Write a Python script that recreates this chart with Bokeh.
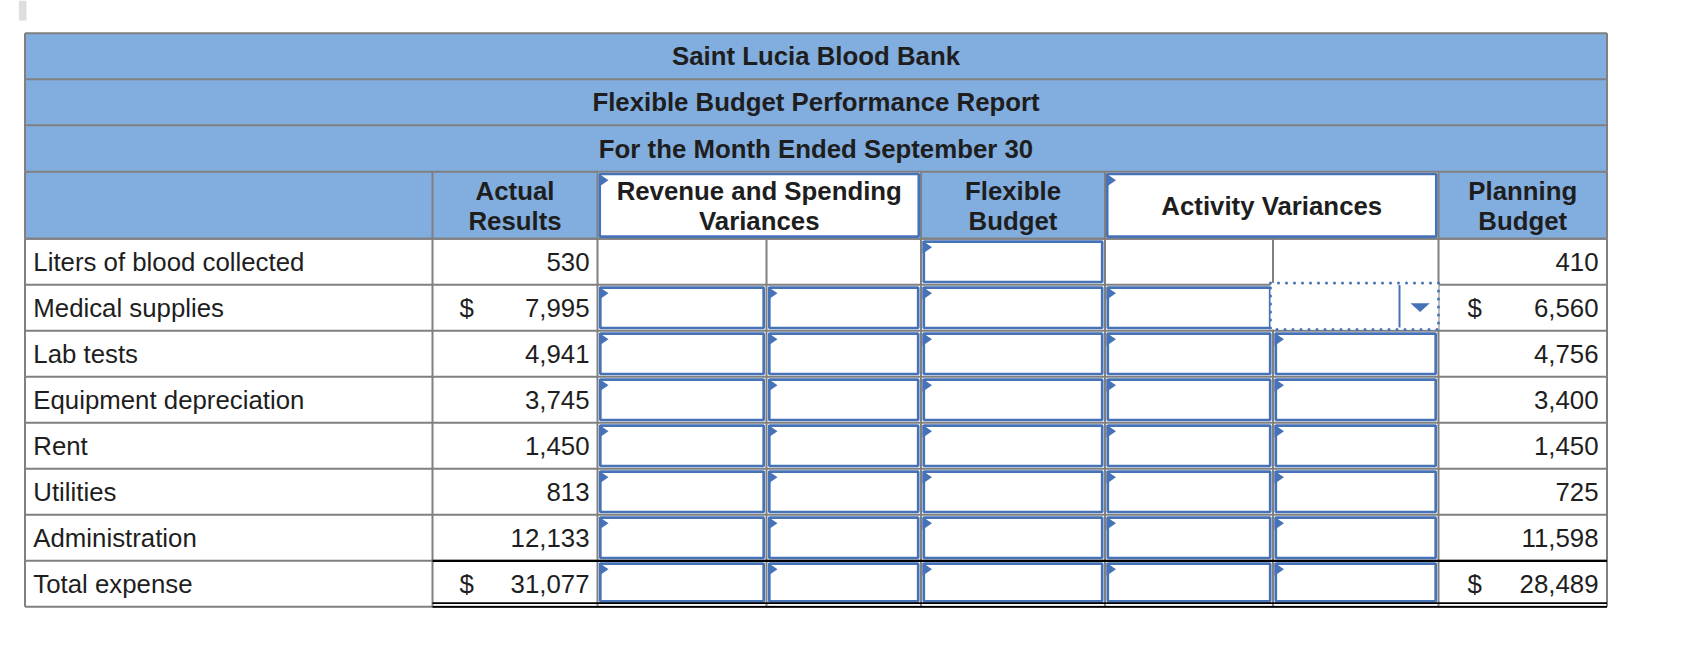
from bokeh.plotting import figure
from bokeh.models import Range1d, ColumnDataSource
from bokeh.core.properties import value
from bokeh.embed import file_html
from bokeh.resources import INLINE

# ---------------- data ----------------
title_lines = ["Saint Lucia Blood Bank",
               "Flexible Budget Performance Report",
               "For the Month Ended September 30"]
column_headers = [[""], ["Actual", "Results"], ["Revenue and Spending", "Variances"],
                  ["Flexible", "Budget"], ["Activity Variances"], ["Planning", "Budget"]]
row_labels = ["Liters of blood collected", "Medical supplies", "Lab tests",
              "Equipment depreciation", "Rent", "Utilities", "Administration",
              "Total expense"]
actual_results = [530, 7995, 4941, 3745, 1450, 813, 12133, 31077]
planning_budget = [410, 6560, 4756, 3400, 1450, 725, 11598, 28489]
dollar_rows = [False, True, False, False, False, False, False, True]

# ---------------- layout / style ----------------
COL = [24.5, 432, 597, 766, 920.5, 1104.5, 1272.5, 1438, 1606.5]
HDR = [32.7, 78.7, 124.7, 171.3, 238.3]
ROW_H = 46.0
ROWS = [HDR[-1] + i * ROW_H for i in range(len(row_labels) + 1)]
HEAD_SPANS = [(0, 1), (1, 2), (2, 4), (4, 5), (5, 7), (7, 8)]
HEAD_INPUT = [False, False, True, False, True, False]

BLUE_BG = "#82ADDF"
GRID = "#808080"
INPUT = "#4673B8"
TXT = "#1e1e1e"
FONT = value("Liberation Sans")
FS = "25.8px"

p = figure(width=1686, height=636, x_range=Range1d(0, 1686), y_range=Range1d(636, 0),
           output_backend="svg", toolbar_location=None, min_border=0,
           x_axis_type=None, y_axis_type=None)
p.grid.visible = False
p.outline_line_color = None
p.background_fill_color = "white"
p.border_fill_color = "white"

p.quad(left=[18.4], right=[26], top=[0], bottom=[20], fill_color="#dedede", line_color=None)

p.quad(left=[COL[0]], right=[COL[-1]], top=[HDR[0]], bottom=[HDR[-1]],
       fill_color=BLUE_BG, line_color=None)
wl, wr = [], []
for (a, b), inp in zip(HEAD_SPANS, HEAD_INPUT):
    if inp:
        wl.append(COL[a]); wr.append(COL[b])
p.quad(left=wl, right=wr, top=[HDR[3]] * len(wl), bottom=[HDR[4]] * len(wl),
       fill_color="white", line_color=None)

x0, y0, x1, y1 = [], [], [], []
for y in HDR + ROWS:
    x0.append(COL[0]); x1.append(COL[-1]); y0.append(y); y1.append(y)
for x in (COL[0], COL[-1]):
    x0.append(x); x1.append(x); y0.append(HDR[0]); y1.append(HDR[3])
head_v = sorted(set([COL[a] for a, b in HEAD_SPANS] + [COL[-1]]))
for x in head_v:
    x0.append(x); x1.append(x); y0.append(HDR[3]); y1.append(HDR[4])
for x in COL:
    x0.append(x); x1.append(x); y0.append(ROWS[0]); y1.append(ROWS[-1])
p.segment(x0=x0, y0=y0, x1=x1, y1=y1, line_color=GRID, line_width=2)

bl, br, bt, bb = [], [], [], []
tri_x, tri_y = [], []
INS = 2.8
def add_box(l, r, t, b, tri=True, ins=INS, ins_b=None):
    ib = ins if ins_b is None else ins_b
    bl.append(l + ins); br.append(r - ins); bt.append(t + ins); bb.append(b - ib)
    if tri:
        tx, ty = l + 1.5, t + 2.0
        tri_x.append([tx, tx, tx + 9.5]); tri_y.append([ty, ty + 13, ty + 6.5])

for (a, b), inp in zip(HEAD_SPANS, HEAD_INPUT):
    if inp:
        add_box(COL[a], COL[b], HDR[3], HDR[4], ins=2.2)

for r in range(len(row_labels)):
    t, b = ROWS[r], ROWS[r + 1]
    last = r == len(row_labels) - 1
    for c in (2, 3, 4, 5, 6):
        if r == 0 and c != 4:
            continue
        if r == 1 and c == 6:
            continue
        add_box(COL[c], COL[c + 1], t, b, ins_b=5.5 if last else None)

p.quad(left=bl, right=br, top=bt, bottom=bb, fill_color="white",
       line_color=INPUT, line_width=2.7)
p.patches(xs=tri_x, ys=tri_y, fill_color=INPUT, line_color=None)

dl, dr, dt, db = COL[6] - 2.5, COL[7], ROWS[1] - 1.8, ROWS[2] - 1.3
p.quad(left=[dl], right=[dr], top=[dt], bottom=[db], fill_color="white",
       line_color=INPUT, line_width=3, line_dash="0 8", line_cap="round")
p.segment(x0=[1399], y0=[dt + 2], x1=[1399], y1=[db - 2], line_color=INPUT, line_width=2)
p.patches(xs=[[1410, 1429.3, 1419.6]], ys=[[302.7, 302.7, 311.5]], fill_color=INPUT, line_color=None)

p.segment(x0=[COL[1]], y0=[ROWS[-2]], x1=[COL[-1]], y1=[ROWS[-2]], line_color="black", line_width=2.2)
p.segment(x0=[COL[1]] * 2, y0=[ROWS[-1] - 3.6, ROWS[-1]], x1=[COL[-1]] * 2,
          y1=[ROWS[-1] - 3.6, ROWS[-1]], line_color="black", line_width=1.8)

# ---------------- texts ----------------
tc = (COL[0] + COL[-1]) / 2
p.text(x=[tc] * 3, y=[(HDR[i] + HDR[i + 1]) / 2 for i in range(3)], text=title_lines,
       text_align="center", text_baseline="middle", text_font=FONT,
       text_font_size=FS, text_font_style="bold", text_color=TXT)

hx, hy, ht = [], [], []
hmid = (HDR[3] + HDR[4]) / 2
for (a, b), lines in zip(HEAD_SPANS, column_headers):
    cx = (COL[a] + COL[b]) / 2
    n = len(lines)
    for i, s in enumerate(lines):
        if not s:
            continue
        off = (i - (n - 1) / 2) * 30
        hx.append(cx); hy.append(hmid + 0.3 + off); ht.append(s)
p.text(x=hx, y=hy, text=ht, text_align="center", text_baseline="middle",
       text_font=FONT, text_font_size=FS, text_font_style="bold", text_color=TXT)

mids = [(ROWS[i] + ROWS[i + 1]) / 2 for i in range(len(row_labels))]
p.text(x=[COL[0] + 8.3] * len(row_labels), y=mids, text=row_labels, text_align="left",
       text_baseline="middle", text_font=FONT, text_font_size=FS, text_color=TXT)

num_src = ColumnDataSource(dict(
    x=[COL[2] - 8] * len(actual_results) + [COL[8] - 8.5] * len(planning_budget),
    y=mids + mids,
    t=[f"{v:,}" for v in actual_results] + [f"{v:,}" for v in planning_budget]))
p.text(x="x", y="y", text="t", source=num_src, text_align="right",
       text_baseline="middle", text_font=FONT, text_font_size=FS, text_color=TXT)

dx, dy = [], []
for i, d in enumerate(dollar_rows):
    if d:
        dx += [459, COL[7] + 29]; dy += [mids[i], mids[i]]
p.text(x=dx, y=dy, text=["$"] * len(dx), text_align="left", text_baseline="middle",
       text_font=FONT, text_font_size=FS, text_color=TXT)

open("out.html", "w").write(file_html(p, INLINE))
